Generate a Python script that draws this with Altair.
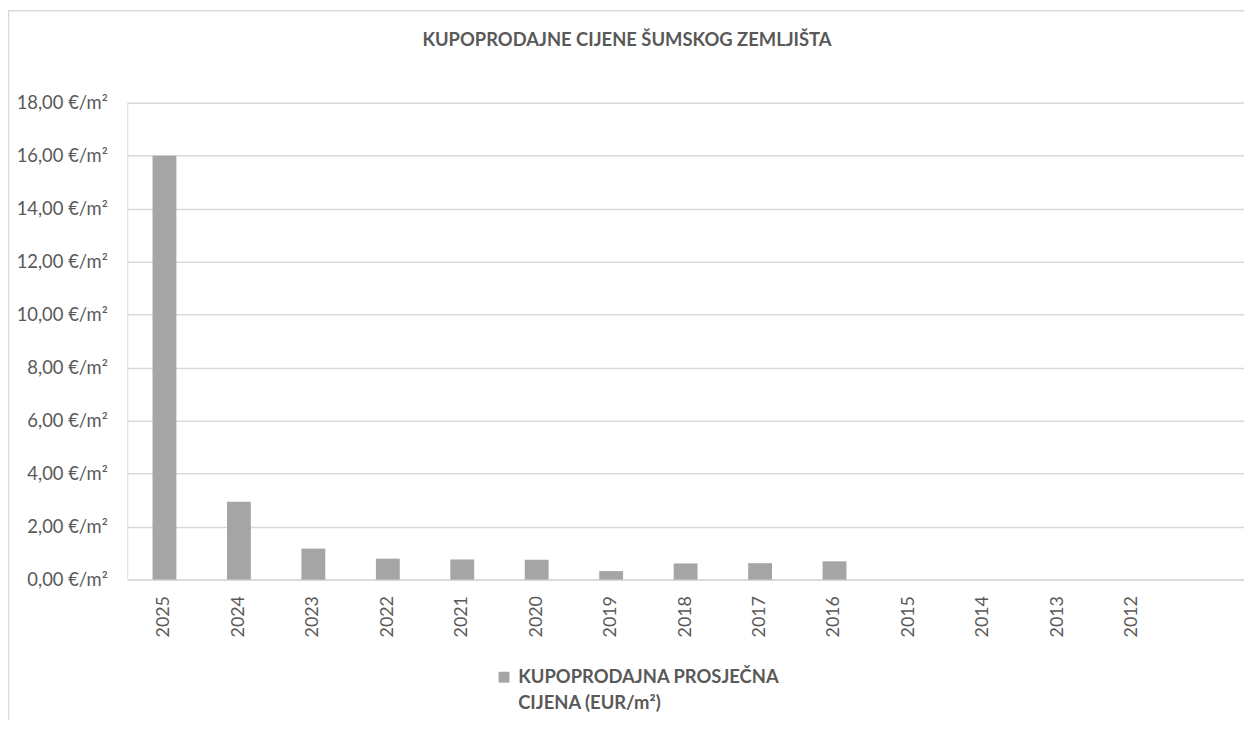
import altair as alt
import pandas as pd

years = ["2025", "2024", "2023", "2022", "2021", "2020", "2019", "2018",
         "2017", "2016", "2015", "2014", "2013", "2012", " "]
prices = [16.0, 2.94, 1.17, 0.79, 0.76, 0.75, 0.32, 0.61,
          0.62, 0.69, None, None, None, None, None]
series_name = "KUPOPRODAJNA PROSJEČNA CIJENA (EUR/m²)"
title_text = "KUPOPRODAJNE CIJENE ŠUMSKOG ZEMLJIŠTA"
y_ticks = [0, 2, 4, 6, 8, 10, 12, 14, 16, 18]

df = pd.DataFrame({"year": years, "price": prices, "series": series_name})

W, H = 1124, 480
FONT = "Lato"
TXT = "#595959"
GRID = "#d9d9d9"

bars = alt.Chart(df).mark_bar(size=24).encode(
    x=alt.X("year:N", sort=None, title=None,
            scale=alt.Scale(domain=years, paddingInner=0, paddingOuter=0),
            axis=alt.Axis(labelAngle=-90, labelFontSize=18, labelColor=TXT,
                          labelFont=FONT, labelPadding=16, ticks=False,
                          domainColor=GRID, domainWidth=1.5,
                          labelBaseline="middle", labelAlign="right")),
    y=alt.Y("price:Q", title=None,
            scale=alt.Scale(domain=[0, 18], nice=False),
            axis=alt.Axis(values=y_ticks, labelFontSize=18.5, labelColor=TXT,
                          labelFont=FONT, labelPadding=20, ticks=False,
                          domain=False, gridColor=GRID, gridWidth=1.5,
                          labelExpr="replace(format(datum.value, '.2f'), '.', ',') + ' €/m²'")),
    color=alt.Color("series:N", scale=alt.Scale(range=["#a5a5a5"]), title=None,
                    legend=alt.Legend(orient="none", legendX=370, legendY=569,
                                      symbolType="square", symbolSize=121,
                                      symbolStrokeWidth=0,
                                      labelFontSize=18.5, labelFont=FONT,
                                      labelFontWeight="bold", labelColor=TXT,
                                      labelLimit=400, labelOffset=5,
                                      labelExpr="[slice(datum.label, 0, 22), slice(datum.label, 23)]",
                                      padding=0)),
)

border = alt.Chart(pd.DataFrame({"a": [0]})).mark_rect(
    fill=None, stroke=GRID, strokeWidth=1.5
).encode(
    x=alt.value(-119.5), x2=alt.value(W + 60),
    y=alt.value(-92.5), y2=alt.value(H + 300),
)

title = alt.Chart(pd.DataFrame({"t": [title_text]})).mark_text(
    font=FONT, fontSize=18.5, fontWeight="bold", color=TXT,
    align="center", baseline="alphabetic"
).encode(
    text="t:N", x=alt.value(503), y=alt.value(-57),
)

chart = alt.layer(border, bars, title).properties(
    width=W, height=H,
    padding={"left": 120, "top": 93, "right": 0, "bottom": 139},
    autosize=alt.AutoSizeParams(type="none"),
).configure_view(stroke=None).configure(
    background="white",
    style={"guide-label": {"lineHeight": 26}},
)

chart.save("out.html", embed_options={"renderer": "svg", "actions": False})
